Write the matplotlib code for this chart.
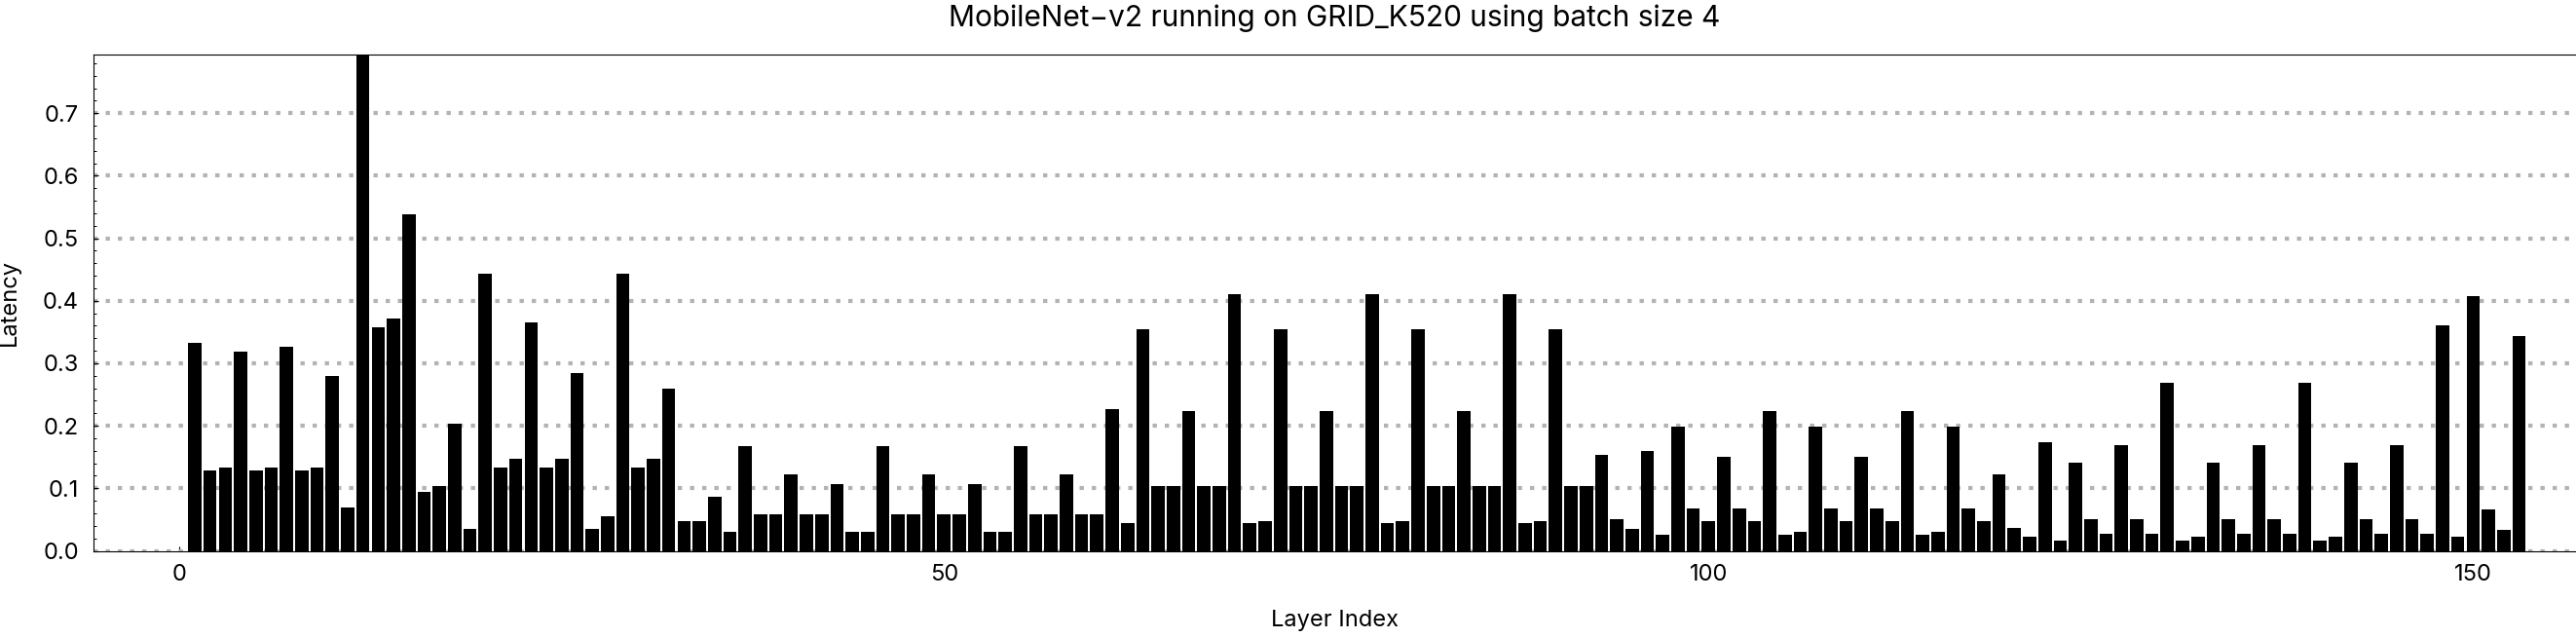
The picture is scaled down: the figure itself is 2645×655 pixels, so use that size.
import matplotlib
matplotlib.use("Agg")
import matplotlib.pyplot as plt
import numpy as np
from matplotlib.ticker import MultipleLocator, FormatStrFormatter

# latency per layer (layer 12 runs off the top of the plot range)
latency = [
    0.333, 0.128, 0.134, 0.318, 0.128, 0.134, 0.327, 0.128, 0.134, 0.279,
    0.070, 0.800, 0.357, 0.372, 0.539, 0.095, 0.104, 0.204, 0.035, 0.444,
    0.134, 0.148, 0.366, 0.134, 0.148, 0.284, 0.035, 0.055, 0.444, 0.134,
    0.148, 0.260, 0.048, 0.048, 0.086, 0.030, 0.167, 0.059, 0.059, 0.123,
    0.059, 0.059, 0.106, 0.030, 0.030, 0.167, 0.059, 0.059, 0.123, 0.059,
    0.059, 0.106, 0.030, 0.030, 0.167, 0.059, 0.059, 0.123, 0.059, 0.059,
    0.226, 0.045, 0.355, 0.103, 0.104, 0.223, 0.103, 0.104, 0.410, 0.045,
    0.047, 0.355, 0.103, 0.104, 0.223, 0.103, 0.104, 0.410, 0.045, 0.047,
    0.355, 0.103, 0.104, 0.223, 0.103, 0.104, 0.410, 0.045, 0.047, 0.355,
    0.103, 0.104, 0.153, 0.051, 0.035, 0.159, 0.025, 0.199, 0.068, 0.048,
    0.150, 0.068, 0.048, 0.223, 0.025, 0.030, 0.199, 0.068, 0.048, 0.150,
    0.068, 0.048, 0.223, 0.025, 0.030, 0.199, 0.068, 0.048, 0.122, 0.036,
    0.022, 0.174, 0.017, 0.141, 0.051, 0.027, 0.169, 0.051, 0.027, 0.269,
    0.017, 0.022, 0.141, 0.051, 0.027, 0.169, 0.051, 0.027, 0.269, 0.017,
    0.022, 0.141, 0.051, 0.027, 0.169, 0.051, 0.027, 0.361, 0.022, 0.407,
    0.066, 0.033, 0.344,
]
layer_index = np.arange(1, len(latency) + 1)
x_ticks = [0, 50, 100, 150]

title = "MobileNet\u2212v2 running on GRID_K520 using batch size 4"

plt.rcParams["font.family"] = ["Inter", "DejaVu Sans"]

fig = plt.figure(figsize=(26.45, 6.55), dpi=100)
ax = fig.add_axes([95.7 / 2645, (655 - 565.5) / 655, 1 - 95.7 / 2645, 509.5 / 655])

ax.bar(layer_index, latency, width=0.87, color="black", zorder=2)

ax.set_xlim(-5.64, 156.73)
ax.set_ylim(0, 0.794)

ax.set_xticks(x_ticks)
ax.yaxis.set_major_locator(MultipleLocator(0.1))
ax.yaxis.set_minor_locator(MultipleLocator(0.02))
ax.yaxis.set_major_formatter(FormatStrFormatter("%.1f"))

ax.tick_params(axis="both", which="major", direction="in", length=3.5, width=0.8,
               labelsize=17, color="black")
ax.tick_params(axis="y", which="major", pad=10.6)
ax.tick_params(axis="x", which="major", pad=9.5)
ax.tick_params(axis="y", which="minor", direction="in", length=1.8, width=0.7)

# dotted horizontal grid
ax.set_axisbelow(True)
ax.yaxis.grid(True, which="major", color="#b3b3b3", linewidth=3.0,
              linestyle=(0, (1.05, 1.95)))
ax.xaxis.grid(False)

ax.spines["right"].set_visible(False)
for s in ["left", "top", "bottom"]:
    ax.spines[s].set_linewidth(0.8)
    ax.spines[s].set_zorder(3)

ax.set_title(title, fontsize=21.5, pad=21)
ax.set_xlabel("Layer Index", fontsize=17)
ax.set_ylabel("Latency", fontsize=17)
ax.xaxis.set_label_coords(0.5, -0.118)
ax.yaxis.set_label_coords(-0.0295, 0.5)

fig.savefig("out.png", dpi=100)
